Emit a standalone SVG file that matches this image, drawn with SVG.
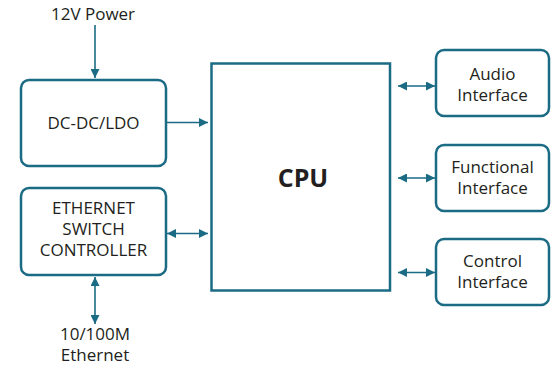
<svg xmlns="http://www.w3.org/2000/svg" width="558" height="367" viewBox="0 0 558 367">
<style>
.box{fill:#fff;stroke:#1b6b84;stroke-width:2.5}
.t{font-family:"Open Sans",sans-serif;font-size:17px;fill:#231f20;text-anchor:middle}
.cpu{font-family:"Open Sans",sans-serif;font-size:25px;font-weight:bold;fill:#231f20;text-anchor:middle}
.c{stroke:#1b6b84;stroke-width:1.6;fill:none}
</style>
<defs>
<marker id="ah" viewBox="0 0 10 10" refX="10" refY="5" markerWidth="9" markerHeight="9" markerUnits="userSpaceOnUse" orient="auto-start-reverse">
<path d="M0,0 L10,5 L0,10 z" fill="#1b6b84"/>
</marker>
</defs>
<g id="connectors">
<line class="c" x1="95" y1="25" x2="95" y2="78" marker-end="url(#ah)"/>
<line class="c" x1="166" y1="122.5" x2="208" y2="122.5" marker-end="url(#ah)"/>
<line class="c" x1="167" y1="233.5" x2="208" y2="233.5" marker-start="url(#ah)" marker-end="url(#ah)"/>
<line class="c" x1="95" y1="277" x2="95" y2="324" marker-start="url(#ah)" marker-end="url(#ah)"/>
<line class="c" x1="398" y1="86" x2="435" y2="86" marker-start="url(#ah)" marker-end="url(#ah)"/>
<line class="c" x1="398" y1="178" x2="435" y2="178" marker-start="url(#ah)" marker-end="url(#ah)"/>
<line class="c" x1="398" y1="272.5" x2="435" y2="272.5" marker-start="url(#ah)" marker-end="url(#ah)"/>
</g>
<g id="power-label"><text class="t" x="93" y="20">12V Power</text></g>
<g id="eth-label"><text class="t" x="95" y="340">10/100M</text><text class="t" x="95" y="361">Ethernet</text></g>
<g id="dcdc"><rect class="box" x="21" y="80" width="145" height="86" rx="8"/><text class="t" x="93.5" y="128.5">DC-DC/LDO</text></g>
<g id="ethernet"><rect class="box" x="21" y="188" width="145" height="87" rx="8"/>
<text class="t" x="93.5" y="213.5">ETHERNET</text><text class="t" x="93.5" y="234.5">SWITCH</text><text class="t" x="93.5" y="255.5">CONTROLLER</text></g>
<g id="cpu"><rect class="box" x="211.5" y="63.5" width="178.5" height="227"/><text class="cpu" x="303" y="187">CPU</text></g>
<g id="audio"><rect class="box" x="436" y="50" width="113" height="66" rx="8"/><text class="t" x="492.5" y="79.5">Audio</text><text class="t" x="492.5" y="100.5">Interface</text></g>
<g id="functional"><rect class="box" x="436" y="145" width="113" height="66" rx="8"/><text class="t" x="492.5" y="173">Functional</text><text class="t" x="492.5" y="194">Interface</text></g>
<g id="control"><rect class="box" x="436" y="239" width="113" height="66" rx="8"/><text class="t" x="492.5" y="266.5">Control</text><text class="t" x="492.5" y="287.5">Interface</text></g>
</svg>
